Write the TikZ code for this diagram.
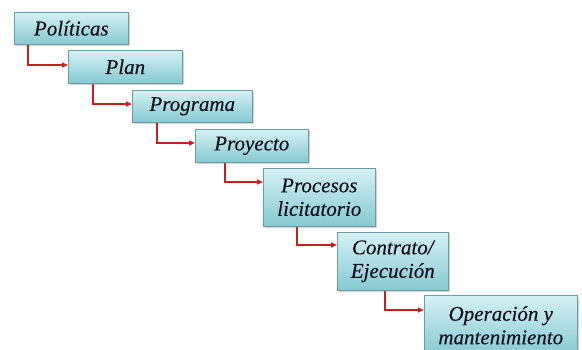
\documentclass[tikz,border=0pt]{standalone}
\usepackage{fontspec}
\newfontfamily\boxfont[FakeBold=0.25]{Liberation Serif}
\usetikzlibrary{shadows,arrows.meta}
\definecolor{boxtop}{HTML}{D4F1F4}
\definecolor{boxbot}{HTML}{86C9D1}
\definecolor{boxline}{HTML}{6E9CA2}
\definecolor{txt}{HTML}{10101C}
\definecolor{conn}{HTML}{C8201E}
\tikzset{
  stepbox/.style={draw=boxline, line width=0.6pt, top color=boxtop, bottom color=boxbot,
    drop shadow={shadow xshift=1.5pt, shadow yshift=-2pt, opacity=0.35, fill=gray},
    anchor=north west, inner sep=0pt, align=center, text=txt,
    font=\boxfont\fontsize{21}{23.5}\selectfont\itshape},
  link/.style={draw=conn, line width=1.4pt, -{Triangle[length=6pt,width=5pt]}}
}
\begin{document}
\begin{tikzpicture}[x=1pt,y=-1pt]
\useasboundingbox (0,0) rectangle (582,349);
\clip (0,0) rectangle (582,349);
\node[stepbox, minimum width=114pt, minimum height=32pt] (p1) at (14,12) {Políticas};
\node[stepbox, minimum width=114pt, minimum height=33pt] (p2) at (68,50) {Plan};
\node[stepbox, minimum width=120pt, minimum height=32pt] (p3) at (132,90) {Programa};
\node[stepbox, minimum width=113pt, minimum height=33pt] (p4) at (195,129) {Proyecto};
\node[stepbox, minimum width=112pt, minimum height=58pt] (p5) at (263,168) {Procesos\\licitatorio};
\node[stepbox, minimum width=111pt, minimum height=58pt] (p6) at (337,232) {Contrato/\\Ejecución};
\node[stepbox, minimum width=153pt, minimum height=60pt] (p7) at (424,295) {Operación y\\mantenimiento};
\draw[link] (p1.south west) ++(14,0) |- (p2.west |- 0,65);
\draw[link] (p2.south west) ++(25,0) |- (p3.west |- 0,104);
\draw[link] (p3.south west) ++(25,0) |- (p4.west |- 0,143);
\draw[link] (p4.south west) ++(30,0) |- (p5.west |- 0,182);
\draw[link] (p5.south west) ++(34,0) |- (p6.west |- 0,245);
\draw[link] (p6.south west) ++(48,0) |- (p7.west |- 0,310);
\end{tikzpicture}
\end{document}
